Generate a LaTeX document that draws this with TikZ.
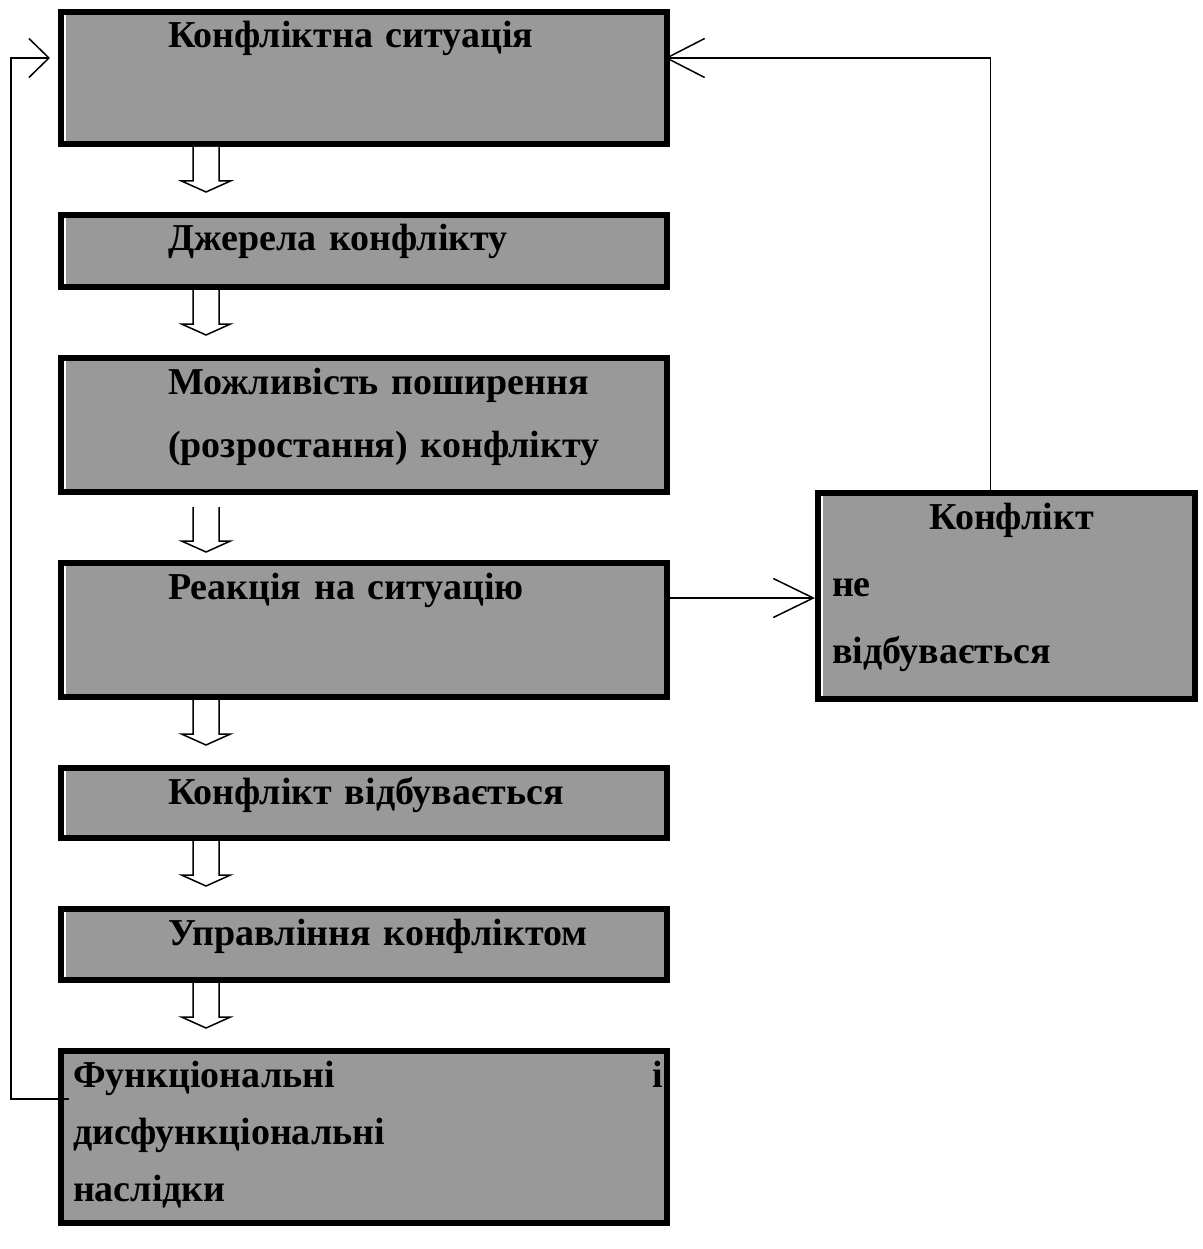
\documentclass[tikz,border=0pt]{standalone}
\usepackage{fontspec}
\setmainfont{Liberation Serif}
\usepackage{tikz}
\usetikzlibrary{arrows.meta, positioning}
\definecolor{boxgray}{RGB}{153,153,153}

\begin{document}
\begin{tikzpicture}[x=1pt, y=1pt, node distance=65pt,
    font=\fontsize{38}{63}\selectfont\bfseries,
    b/.style={draw, line width=6pt, fill=boxgray, anchor=north west, inner xsep=4pt, inner ysep=0pt,
      text width=598pt, align=left, text height=36pt, text depth=#1,
      execute at begin node={\leftskip=103pt}},
    hol/.style={draw, line width=1.5pt, fill=white, line join=miter},
    arr/.style={line width=1.5pt, -{Straight Barb[length=#1, width=39pt]}}]
    \useasboundingbox (0,0) rectangle (1202,-1249);
    \node[b=96pt] (sit) at (58,-9) {Конфліктна ситуація};
    \node[b=36pt, below=of sit] (src) {Джерела конфлікту};
    \node[b=98pt, below=of src] (esc) {Можливість поширення\\(розростання) конфлікту};
    \node[b=98pt, below=of esc] (rea) {Реакція на ситуацію};
    \node[b=34pt, below=of rea] (occ) {Конфлікт відбувається};
    \node[b=35pt, below=of occ] (mng) {Управління конфліктом};
    \node[b=136pt, below=of mng, font=\fontsize{38}{57}\selectfont\bfseries,
      execute at begin node={\leftskip=8pt}] (res) {Функціональні\hspace{\fill}і\\дисфункціональні\\наслідки};
    \node[b=170pt, text width=369pt, font=\fontsize{38}{67}\selectfont\bfseries,
      execute at begin node={\leftskip=10pt}] (noc) at (815,-490) {\hspace*{\fill}Конфлікт\hspace*{\fill}\null\\не\\відбувається};
    \foreach \n in {sit,src,esc,rea,occ,mng,noc}
      \draw[white, line width=2.5pt] ([shift={(7.2pt,-6pt)}]\n.north west) -- ([shift={(7.2pt,6pt)}]\n.south west);
    \foreach \n/\d in {sit/0,src/0,esc/-12,rea/0,occ/0,mng/0}
      \draw[hol, shift={([yshift=\d pt]\n.south west)}] (135,0) -- (135,-34) -- (123.5,-34) -- (148,-45) -- (172.5,-34) -- (161,-34) -- (161,0);
    \coordinate (re) at ([shift={(-5pt,-38pt)}]rea.north east);
    \draw[arr=20pt] ([shift={(11pt,-51pt)}]res.north west) -| ([shift={(-47pt,-49pt)}]sit.north west) -- ([shift={(-8pt,-49pt)}]sit.north west);
    \draw[arr=38pt] ([xshift=-16pt]noc.north) |- ([shift={(-5pt,-49pt)}]sit.north east);
    \draw[arr=40pt] (re) -- (re -| noc.west);
\end{tikzpicture}
\end{document}
